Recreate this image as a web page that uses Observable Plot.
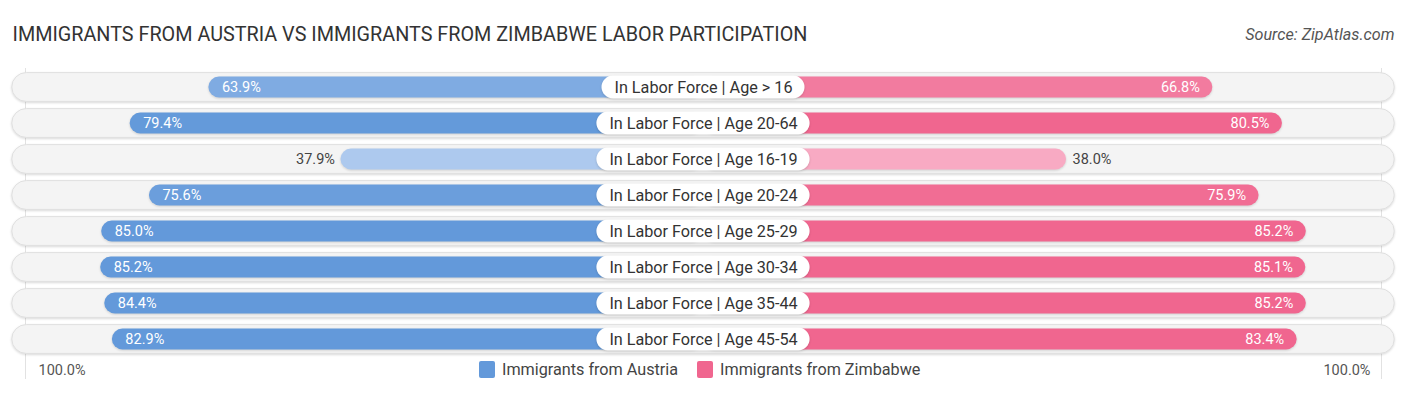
<!DOCTYPE html>
<html>
<head>
<meta charset="utf-8">
<script src="https://cdn.jsdelivr.net/npm/d3@7"></script>
<script src="https://cdn.jsdelivr.net/npm/@observablehq/plot@0.6"></script>
<style>
  html, body { margin: 0; padding: 0; background: #fff; }
  body { width: 1406px; height: 395px; overflow: hidden; font-family: Roboto, "Noto Sans", sans-serif; }
  #wrap { position: relative; width: 1406px; height: 395px; }
  #legend { position: absolute; top: 360px; left: 479px; display: flex; gap: 19px; font-size: 16.2px; color: #444; font-family: Roboto, sans-serif; }
  #legend .item { display: flex; align-items: center; gap: 7px; }
  #legend .sw { width: 16px; height: 17px; border-radius: 2px; }
  g[aria-label="rowbg"] rect { filter: drop-shadow(0px 1px 1.5px rgba(0,0,0,0.18)); }
  g[aria-label="pill"] rect { filter: drop-shadow(0px 1px 1.5px rgba(0,0,0,0.22)); }
  g[aria-label="bar"] rect { filter: drop-shadow(0px 1px 1px rgba(0,0,0,0.15)); }
</style>
</head>
<body>
<div id="wrap"></div>
<script>
const title = "IMMIGRANTS FROM AUSTRIA VS IMMIGRANTS FROM ZIMBABWE LABOR PARTICIPATION";
const source = "Source: ZipAtlas.com";
const seriesNames = ["Immigrants from Austria", "Immigrants from Zimbabwe"];
const categories = [
  "In Labor Force | Age > 16",
  "In Labor Force | Age 20-64",
  "In Labor Force | Age 16-19",
  "In Labor Force | Age 20-24",
  "In Labor Force | Age 25-29",
  "In Labor Force | Age 30-34",
  "In Labor Force | Age 35-44",
  "In Labor Force | Age 45-54"
];
const austria = [63.9, 79.4, 37.9, 75.6, 85.0, 85.2, 84.4, 82.9];
const zimbabwe = [66.8, 80.5, 38.0, 75.9, 85.2, 85.1, 85.2, 83.4];
const axisLabel = "100.0%";

// layout constants
const G = 33.46;          // half-gap (in % units) reserved for the centre label
const MAXV = 100 + G;
const W = 1406, H = 395;
const xRange = [25, 1381];
const pxPerUnit = (xRange[1] - xRange[0]) / (2 * MAXV);

const blueLight = "#b0cbef", blueFull = "#6399da";
const pinkLight = "#f8adc5", pinkFull = "#f0668f";
const t = v => Math.max(0, Math.min(1, (v - 36) / (80 - 36)));
const blueOf = v => d3.interpolateRgb(blueLight, blueFull)(t(v));
const pinkOf = v => d3.interpolateRgb(pinkLight, pinkFull)(t(v));

const labelSize = 16.2;
const canvas = document.createElement("canvas");
const ctx = canvas.getContext("2d");
ctx.font = labelSize + "px Roboto";
const halfPill = s => (ctx.measureText(s).width / 2 + 12.5) / pxPerUnit;

const rows = categories.map((c, i) => ({cat: c, a: austria[i], z: zimbabwe[i]}));
const fmt = v => v.toFixed(1) + "%";
const inside = v => v >= 50;

const chart = Plot.plot({
  width: W,
  height: H,
  margin: 0,
  style: {fontFamily: "Roboto, sans-serif", background: "transparent"},
  x: {domain: [-MAXV, MAXV], range: xRange, axis: null},
  y: {domain: categories, range: [68, 357.1], padding: 0, axis: null},
  color: {type: "identity"},
  marks: [
    Plot.ruleX([-MAXV, MAXV], {stroke: "#e2e2e2", strokeWidth: 1, insetTop: 68, insetBottom: 16}),
    Plot.barX(categories, {x1: -(MAXV + 2.6), x2: MAXV + 2.6, y: d => d, fill: "#f4f4f4", stroke: "#e0e0e0", strokeWidth: 1, rx: 14.5, insetTop: 3.6, insetBottom: 3.6, ariaLabel: "rowbg"}),
    Plot.barX(rows, {x1: 0, x2: d => -(G + d.a), y: "cat", fill: d => blueOf(d.a), rx: 10.5, insetTop: 7.6, insetBottom: 7.6, ariaLabel: "bar"}),
    Plot.barX(rows, {x1: 0, x2: d => (G + d.z), y: "cat", fill: d => pinkOf(d.z), rx: 10.5, insetTop: 7.6, insetBottom: 7.6, ariaLabel: "bar"}),
    Plot.barX(rows, {x1: d => -halfPill(d.cat), x2: d => halfPill(d.cat), y: "cat", fill: "white", rx: 11.5, insetTop: 6.6, insetBottom: 6.6, ariaLabel: "pill"}),
    Plot.text(rows, {x: 0, y: "cat", text: "cat", fontSize: labelSize, fill: "#333"}),
    // Austria value labels
    Plot.text(rows.filter(d => inside(d.a)), {x: d => -(G + d.a), y: "cat", text: d => fmt(d.a), textAnchor: "start", dx: 13, fill: "white", fontSize: 14.5}),
    Plot.text(rows.filter(d => !inside(d.a)), {x: d => -(G + d.a), y: "cat", text: d => fmt(d.a), textAnchor: "end", dx: -6, fill: "#444", fontSize: 14.5}),
    // Zimbabwe value labels
    Plot.text(rows.filter(d => inside(d.z)), {x: d => (G + d.z), y: "cat", text: d => fmt(d.z), textAnchor: "end", dx: -13, fill: "white", fontSize: 14.5}),
    Plot.text(rows.filter(d => !inside(d.z)), {x: d => (G + d.z), y: "cat", text: d => fmt(d.z), textAnchor: "start", dx: 6, fill: "#444", fontSize: 14.5}),
    // bottom scale labels
    Plot.text([axisLabel], {x: -MAXV, frameAnchor: "bottom", dy: -25, textAnchor: "start", dx: 13, fill: "#555", fontSize: 14.5, lineAnchor: "middle"}),
    Plot.text([axisLabel], {x: MAXV, frameAnchor: "bottom", dy: -25, textAnchor: "end", dx: -11, fill: "#555", fontSize: 14.5, lineAnchor: "middle"}),
    // title & source
    Plot.text([title], {frameAnchor: "top-left", dx: 12, dy: 34, lineAnchor: "middle", fontSize: 19.8, fill: "#333", text: d => d}),
    Plot.text([source], {frameAnchor: "top-right", dx: -12, dy: 34, lineAnchor: "middle", fontSize: 16.2, fill: "#555", fontStyle: "italic", text: d => d})
  ]
});

const wrap = document.getElementById("wrap");
wrap.appendChild(chart);

const legend = document.createElement("div");
legend.id = "legend";
const legendColors = [blueFull, pinkFull];
seriesNames.forEach((name, i) => {
  const item = document.createElement("div");
  item.className = "item";
  const sw = document.createElement("div");
  sw.className = "sw";
  sw.style.background = legendColors[i];
  const label = document.createElement("span");
  label.textContent = name;
  item.appendChild(sw);
  item.appendChild(label);
  legend.appendChild(item);
});
wrap.appendChild(legend);
</script>
</body>
</html>
